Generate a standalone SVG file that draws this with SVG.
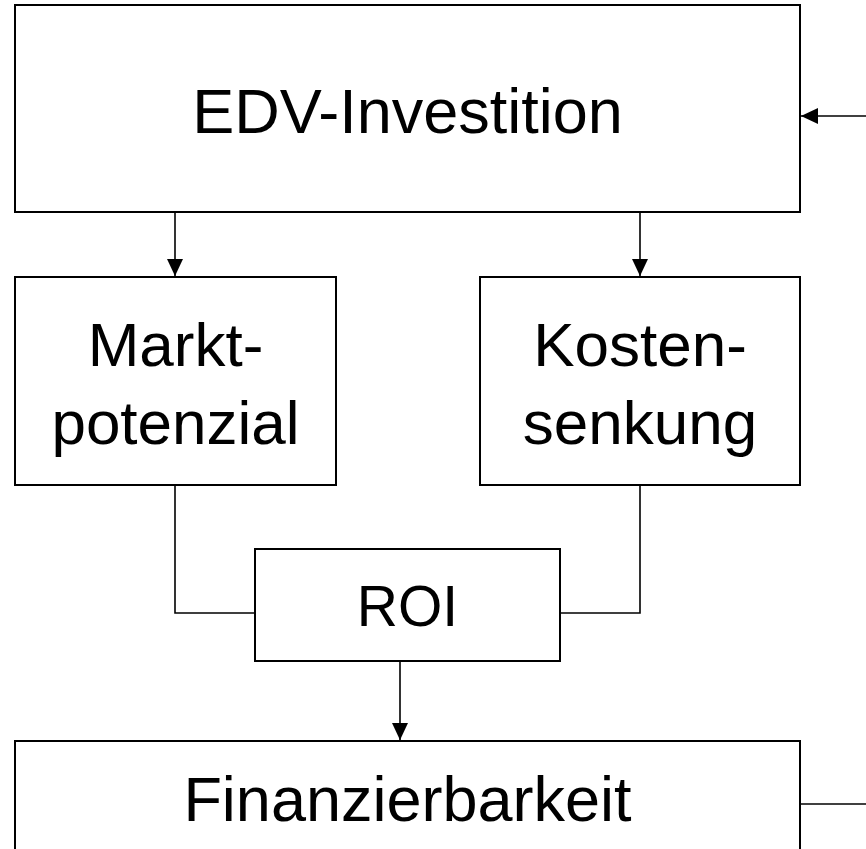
<svg xmlns="http://www.w3.org/2000/svg" width="866" height="849" viewBox="0 0 866 849">
<style>
.box{fill:#fff;stroke:#000;stroke-width:2}
.lbl{font-family:"Liberation Sans",Arial,sans-serif;font-size:63px;fill:#000;text-anchor:middle}
.con{fill:none;stroke:#000;stroke-width:1.6}
</style>
<defs>
<marker id="ah" markerUnits="userSpaceOnUse" markerWidth="17" markerHeight="17" viewBox="0 0 17 17" refX="17" refY="8.5" orient="auto">
<path d="M0,0.5 L17,8.5 L0,16.5 Z" fill="#000"/>
</marker>
</defs>
<rect width="866" height="849" fill="#fff"/>
<g id="edges">
<line class="con" x1="175" y1="212" x2="175" y2="276" marker-end="url(#ah)"/>
<line class="con" x1="640" y1="212" x2="640" y2="276" marker-end="url(#ah)"/>
<polyline class="con" points="175,485 175,613 255,613"/>
<polyline class="con" points="640,485 640,613 560,613"/>
<line class="con" x1="400" y1="661" x2="400" y2="740" marker-end="url(#ah)"/>
<line class="con" x1="866" y1="116" x2="801" y2="116" marker-end="url(#ah)"/>
<line class="con" x1="800" y1="804" x2="866" y2="804"/>
</g>
<g id="edv">
<rect class="box" x="15" y="5" width="785" height="207"/>
<text class="lbl" x="407.5" y="133">EDV-Investition</text>
</g>
<g id="markt">
<rect class="box" x="15" y="277" width="321" height="208"/>
<text class="lbl" x="175.5" y="366" style="font-size:62px">Markt-</text>
<text class="lbl" x="175.5" y="444" style="font-size:62px">potenzial</text>
</g>
<g id="kosten">
<rect class="box" x="480" y="277" width="320" height="208"/>
<text class="lbl" x="640" y="366" style="font-size:62px">Kosten-</text>
<text class="lbl" x="640" y="444" style="font-size:62px">senkung</text>
</g>
<g id="roi">
<rect class="box" x="255" y="549" width="305" height="112"/>
<text class="lbl" x="407.5" y="626" style="font-size:57px">ROI</text>
</g>
<g id="finanz">
<rect class="box" x="15" y="741" width="785" height="130"/>
<text class="lbl" x="407.5" y="821">Finanzierbarkeit</text>
</g>
</svg>
